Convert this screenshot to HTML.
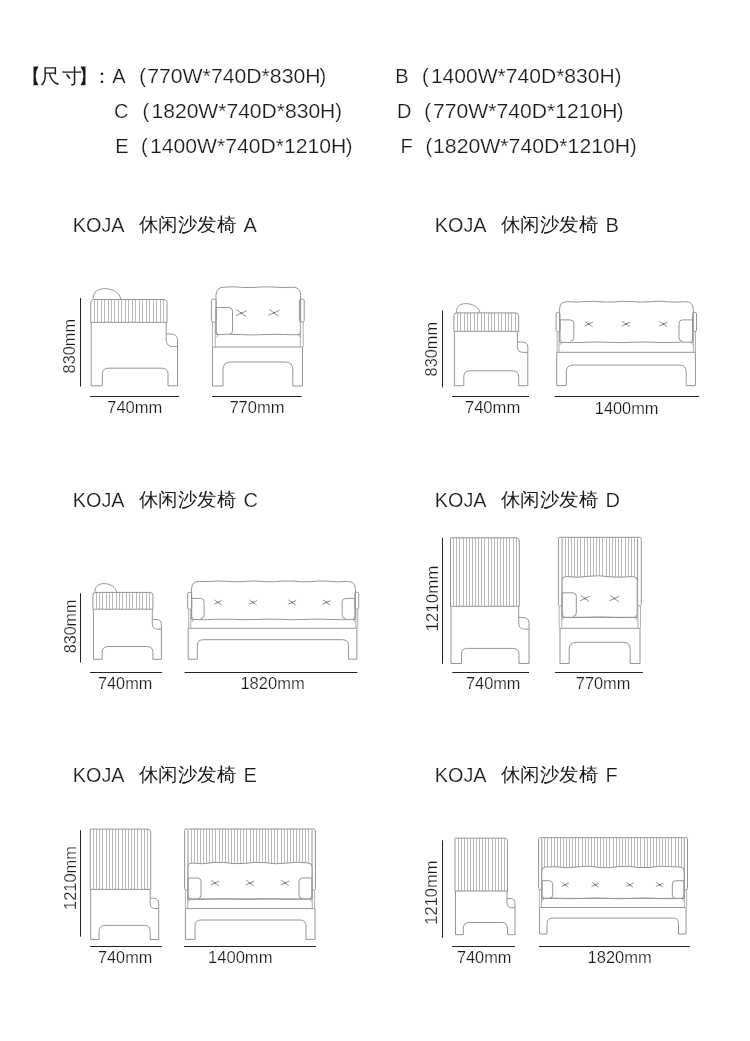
<!DOCTYPE html>
<html><head><meta charset="utf-8">
<style>
html,body{margin:0;padding:0;background:#fff;}
body{width:750px;height:1041px;overflow:hidden;}
svg{display:block;will-change:transform;}
text{font-family:"Liberation Sans",sans-serif;stroke:#fff;stroke-width:0.2px;}
</style></head><body>
<svg width="750" height="1041" viewBox="0 0 750 1041">
<text x="21" y="83" font-size="20" fill="#1a1a1a" text-anchor="start" style="stroke:none">【</text>
<text x="39.9" y="83" font-size="20" fill="#1a1a1a" text-anchor="start" style="stroke:none">尺</text>
<text x="61.6" y="83" font-size="20" fill="#1a1a1a" text-anchor="start" style="stroke:none">寸</text>
<text x="78.2" y="83" font-size="20" fill="#1a1a1a" text-anchor="start" style="stroke:none">】</text>
<text x="92.3" y="83" font-size="20" fill="#1a1a1a" text-anchor="start" style="stroke:none">：</text>
<text x="112.3" y="83" font-size="20" fill="#1a1a1a" text-anchor="start" >A</text>
<text x="139.2" y="83" font-size="20" fill="#1a1a1a" text-anchor="start" >(</text>
<text x="147.2" y="83" font-size="20" fill="#1a1a1a" text-anchor="start" textLength="173.4" lengthAdjust="spacingAndGlyphs" >770W*740D*830H</text>
<text x="319.5" y="83" font-size="20" fill="#1a1a1a" text-anchor="start" >)</text>
<text x="114.1" y="118" font-size="20" fill="#1a1a1a" text-anchor="start" >C</text>
<text x="142.4" y="118" font-size="20" fill="#1a1a1a" text-anchor="start" >(</text>
<text x="151.5" y="118" font-size="20" fill="#1a1a1a" text-anchor="start" textLength="183.8" lengthAdjust="spacingAndGlyphs" >1820W*740D*830H</text>
<text x="335.2" y="118" font-size="20" fill="#1a1a1a" text-anchor="start" >)</text>
<text x="115.2" y="153" font-size="20" fill="#1a1a1a" text-anchor="start" >E</text>
<text x="141.1" y="153" font-size="20" fill="#1a1a1a" text-anchor="start" >(</text>
<text x="149.9" y="153" font-size="20" fill="#1a1a1a" text-anchor="start" textLength="196.4" lengthAdjust="spacingAndGlyphs" >1400W*740D*1210H</text>
<text x="345.7" y="153" font-size="20" fill="#1a1a1a" text-anchor="start" >)</text>
<text x="395.2" y="83" font-size="20" fill="#1a1a1a" text-anchor="start" >B</text>
<text x="421.9" y="83" font-size="20" fill="#1a1a1a" text-anchor="start" >(</text>
<text x="430.9" y="83" font-size="20" fill="#1a1a1a" text-anchor="start" textLength="183.8" lengthAdjust="spacingAndGlyphs" >1400W*740D*830H</text>
<text x="614.7" y="83" font-size="20" fill="#1a1a1a" text-anchor="start" >)</text>
<text x="397" y="118" font-size="20" fill="#1a1a1a" text-anchor="start" >D</text>
<text x="424.3" y="118" font-size="20" fill="#1a1a1a" text-anchor="start" >(</text>
<text x="433" y="118" font-size="20" fill="#1a1a1a" text-anchor="start" textLength="184.4" lengthAdjust="spacingAndGlyphs" >770W*740D*1210H</text>
<text x="616.8" y="118" font-size="20" fill="#1a1a1a" text-anchor="start" >)</text>
<text x="400.5" y="153" font-size="20" fill="#1a1a1a" text-anchor="start" >F</text>
<text x="425.6" y="153" font-size="20" fill="#1a1a1a" text-anchor="start" >(</text>
<text x="433" y="153" font-size="20" fill="#1a1a1a" text-anchor="start" textLength="197.2" lengthAdjust="spacingAndGlyphs" >1820W*740D*1210H</text>
<text x="629.9" y="153" font-size="20" fill="#1a1a1a" text-anchor="start" >)</text>
<text x="72.8" y="231.8" font-size="20" fill="#1a1a1a" text-anchor="start" textLength="51.8" lengthAdjust="spacingAndGlyphs" >KOJA</text>
<text x="138.5" y="231" font-size="19.3" fill="#1a1a1a" text-anchor="start" textLength="97.5" lengthAdjust="spacingAndGlyphs" style="stroke:none">休闲沙发椅</text>
<text x="243.6" y="231.8" font-size="20" fill="#1a1a1a" text-anchor="start" >A</text>
<text x="434.8" y="231.8" font-size="20" fill="#1a1a1a" text-anchor="start" textLength="51.8" lengthAdjust="spacingAndGlyphs" >KOJA</text>
<text x="500.5" y="231" font-size="19.3" fill="#1a1a1a" text-anchor="start" textLength="97.5" lengthAdjust="spacingAndGlyphs" style="stroke:none">休闲沙发椅</text>
<text x="605.6" y="231.8" font-size="20" fill="#1a1a1a" text-anchor="start" >B</text>
<text x="72.8" y="506.8" font-size="20" fill="#1a1a1a" text-anchor="start" textLength="51.8" lengthAdjust="spacingAndGlyphs" >KOJA</text>
<text x="138.5" y="506" font-size="19.3" fill="#1a1a1a" text-anchor="start" textLength="97.5" lengthAdjust="spacingAndGlyphs" style="stroke:none">休闲沙发椅</text>
<text x="243.6" y="506.8" font-size="20" fill="#1a1a1a" text-anchor="start" >C</text>
<text x="434.8" y="506.8" font-size="20" fill="#1a1a1a" text-anchor="start" textLength="51.8" lengthAdjust="spacingAndGlyphs" >KOJA</text>
<text x="500.5" y="506" font-size="19.3" fill="#1a1a1a" text-anchor="start" textLength="97.5" lengthAdjust="spacingAndGlyphs" style="stroke:none">休闲沙发椅</text>
<text x="605.6" y="506.8" font-size="20" fill="#1a1a1a" text-anchor="start" >D</text>
<text x="72.8" y="781.8" font-size="20" fill="#1a1a1a" text-anchor="start" textLength="51.8" lengthAdjust="spacingAndGlyphs" >KOJA</text>
<text x="138.5" y="781" font-size="19.3" fill="#1a1a1a" text-anchor="start" textLength="97.5" lengthAdjust="spacingAndGlyphs" style="stroke:none">休闲沙发椅</text>
<text x="243.6" y="781.8" font-size="20" fill="#1a1a1a" text-anchor="start" >E</text>
<text x="434.8" y="781.8" font-size="20" fill="#1a1a1a" text-anchor="start" textLength="51.8" lengthAdjust="spacingAndGlyphs" >KOJA</text>
<text x="500.5" y="781" font-size="19.3" fill="#1a1a1a" text-anchor="start" textLength="97.5" lengthAdjust="spacingAndGlyphs" style="stroke:none">休闲沙发椅</text>
<text x="605.6" y="781.8" font-size="20" fill="#1a1a1a" text-anchor="start" >F</text>
<path d="M80.5,298.1V386.5 M90,396.5H179" stroke="#222" stroke-width="1" fill="none"/>
<path d="M93.2,299.5 C92.9,290.7 98.68,288.7 104.71,288.7 C112.38,288.7 120.6,292.7 120.6,299.5" stroke="#959595" stroke-width="1" fill="none"/>
<path d="M94.5,299.5V322.3 M97.5,299.5V322.3 M101.5,299.5V322.3 M104.5,299.5V322.3 M108.5,299.5V322.3 M111.5,299.5V322.3 M114.5,299.5V322.3 M118.5,299.5V322.3 M121.5,299.5V322.3 M125.5,299.5V322.3 M128.5,299.5V322.3 M132.5,299.5V322.3 M135.5,299.5V322.3 M139.5,299.5V322.3 M142.5,299.5V322.3 M146.5,299.5V322.3 M149.5,299.5V322.3 M153.5,299.5V322.3 M156.5,299.5V322.3 M160.5,299.5V322.3 M163.5,299.5V322.3" stroke="#bababa" stroke-width="1" fill="none"/>
<path d="M90.7,322.3 V302.5 Q90.7,299.5 93.7,299.5 H164 Q167,299.5 167,302.5 V322.3 Z" stroke="#959595" stroke-width="1" fill="none"/>
<path d="M91.2,322.3 L91.2,385.8 L102.3,385.8 L102.3,374.2 Q102.3,368.2 108.3,368.2 L162,368.2 Q168,368.2 168,374.2 L168,385.8 L177.5,385.8 L177.5,340.3 Q177.5,334 170.72,334 L166.2,334 L166.2,322.3 M166.2,334 L166.2,339.67 Q166.2,346.6 172.98,346.6 L177.5,346.6" stroke="#959595" stroke-width="1" fill="none"/>
<text x="0" y="0" font-size="16.5" fill="#1a1a1a" text-anchor="middle" textLength="54.5" lengthAdjust="spacingAndGlyphs" transform="translate(75.3,346.2) rotate(-90)">830mm</text>
<text x="107.2" y="412.9" font-size="15.7" fill="#1a1a1a" text-anchor="start" textLength="55.1" lengthAdjust="spacingAndGlyphs" >740mm</text>
<path d="M212,396.5H301.6" stroke="#222" stroke-width="1" fill="none"/>
<path d="M212.5,347 L302.5,347 L302.5,386 L292.8,386 L292.8,369.8 Q292.8,362 285,362 L230.8,362 Q223,362 223,369.8 L223,386 L212.5,386 Z" stroke="#959595" stroke-width="1" fill="none"/>
<path d="M216,334.6 V295.2 Q216,287.2 224,287.2 L224,287.2 L233.8,286.81 L243.6,287.48 L253.4,287.51 L263.2,286.84 L273,286.98 L282.8,287.62 L292.6,287.2 Q300.6,287.2 300.6,295.2 V334.6" stroke="#959595" stroke-width="1" fill="none"/>
<path d="M216,334.6 L228.09,334.26 L240.17,334.55 L252.26,334.95 L264.34,334.56 L276.43,334.26 L288.51,334.73 L300.6,334.6" stroke="#959595" stroke-width="1" fill="none"/>
<path d="M216,331.6 L218.5,334.6 L216,337.6 M300.6,331.6 L298.1,334.6 L300.6,337.6" stroke="#9a9a9a" stroke-width="0.8" fill="none"/>
<rect x="211.4" y="299.2" width="4.8" height="22.8" rx="1.5" stroke="#959595" stroke-width="1" fill="none"/>
<path d="M212.4,322 V347 M215.2,322 V347" stroke="#b0b0b0" stroke-width="1" fill="none"/>
<rect x="299.4" y="299.2" width="4.8" height="22.8" rx="1.5" stroke="#959595" stroke-width="1" fill="none"/>
<path d="M300.4,322 V347 M303.2,322 V347" stroke="#b0b0b0" stroke-width="1" fill="none"/>
<path d="M216,334.4 V307.6 H229 Q232.5,307.6 232.5,311.1 V330.9 Q232.5,334.4 229,334.4" stroke="#959595" stroke-width="1" fill="none"/>
<path d="M236.57,309.75 L246.23,316.65 M235.88,315.73 L246.92,310.67" stroke="#858585" stroke-width="0.9" fill="none"/>
<circle cx="241.4" cy="313.2" r="0.9" fill="#777"/>
<path d="M269.17,309.35 L278.83,316.25 M268.48,315.33 L279.52,310.27" stroke="#858585" stroke-width="0.9" fill="none"/>
<circle cx="274" cy="312.8" r="0.9" fill="#777"/>
<text x="229.4" y="413.1" font-size="15.7" fill="#1a1a1a" text-anchor="start" textLength="55.1" lengthAdjust="spacingAndGlyphs" >770mm</text>
<path d="M442.5,310.5V387.3 M452,396.5H529" stroke="#222" stroke-width="1" fill="none"/>
<path d="M456.3,312.9 C456,305.6 461,303.6 466.17,303.6 C472.75,303.6 479.8,307.6 479.8,312.9" stroke="#959595" stroke-width="1" fill="none"/>
<path d="M457.5,312.9V331.3 M460.5,312.9V331.3 M464.5,312.9V331.3 M467.5,312.9V331.3 M470.5,312.9V331.3 M474.5,312.9V331.3 M477.5,312.9V331.3 M481.5,312.9V331.3 M484.5,312.9V331.3 M488.5,312.9V331.3 M491.5,312.9V331.3 M494.5,312.9V331.3 M498.5,312.9V331.3 M501.5,312.9V331.3 M505.5,312.9V331.3 M508.5,312.9V331.3 M511.5,312.9V331.3 M515.5,312.9V331.3" stroke="#bababa" stroke-width="1" fill="none"/>
<path d="M453.9,331.3 V315.9 Q453.9,312.9 456.9,312.9 H515.7 Q518.7,312.9 518.7,315.9 V331.3 Z" stroke="#959595" stroke-width="1" fill="none"/>
<path d="M454.4,331.3 L454.4,385.7 L463.8,385.7 L463.8,376.8 Q463.8,370.8 469.8,370.8 L512.7,370.8 Q518.7,370.8 518.7,376.8 L518.7,385.7 L527.8,385.7 L527.8,347.2 Q527.8,342 521.56,342 L517.4,342 L517.4,331.3 M517.4,342 L517.4,346.68 Q517.4,352.4 523.64,352.4 L527.8,352.4" stroke="#959595" stroke-width="1" fill="none"/>
<text x="0" y="0" font-size="16.5" fill="#1a1a1a" text-anchor="middle" textLength="54.4" lengthAdjust="spacingAndGlyphs" transform="translate(436.6,349.2) rotate(-90)">830mm</text>
<text x="464.9" y="413.2" font-size="15.7" fill="#1a1a1a" text-anchor="start" textLength="55.4" lengthAdjust="spacingAndGlyphs" >740mm</text>
<path d="M554.6,396.5H699" stroke="#222" stroke-width="1" fill="none"/>
<path d="M556.7,352.3 L695.4,352.3 L695.4,385.6 L686.2,385.6 L686.2,371.76 Q686.2,365.1 679.54,365.1 L572.96,365.1 Q566.3,365.1 566.3,371.76 L566.3,385.6 L556.7,385.6 Z" stroke="#959595" stroke-width="1" fill="none"/>
<path d="M559.5,342.3 V309.7 Q559.5,301.7 567.5,301.7 L567.5,301.7 L576.56,302.13 L585.62,301.5 L594.68,301.33 L603.75,302 L612.81,302 L621.87,301.33 L630.93,301.5 L639.99,302.12 L649.05,301.79 L658.12,301.25 L667.18,301.72 L676.24,302.14 L685.3,301.7 Q693.3,301.7 693.3,309.7 V342.3" stroke="#959595" stroke-width="1" fill="none"/>
<path d="M559.5,342.3 L571.66,342.61 L583.83,342.42 L595.99,341.96 L608.15,342.27 L620.32,342.65 L632.48,342.24 L644.65,341.97 L656.81,342.45 L668.97,342.6 L681.14,342.08 L693.3,342.3" stroke="#959595" stroke-width="1" fill="none"/>
<path d="M559.5,339.3 L562,342.3 L559.5,345.3 M693.3,339.3 L690.8,342.3 L693.3,345.3" stroke="#9a9a9a" stroke-width="0.8" fill="none"/>
<rect x="556.1" y="312.4" width="3.9" height="19.2" rx="1.5" stroke="#959595" stroke-width="1" fill="none"/>
<path d="M557.1,331.6 V352.3 M559,331.6 V352.3" stroke="#b0b0b0" stroke-width="1" fill="none"/>
<rect x="692.6" y="312.4" width="3.9" height="19.2" rx="1.5" stroke="#959595" stroke-width="1" fill="none"/>
<path d="M693.6,331.6 V352.3 M695.5,331.6 V352.3" stroke="#b0b0b0" stroke-width="1" fill="none"/>
<path d="M560,341.2 V319.9 H570.3 Q573.8,319.9 573.8,323.4 V337.7 Q573.8,341.2 570.3,341.2" stroke="#959595" stroke-width="1" fill="none"/>
<path d="M692.6,341.2 V319.9 H682.5 Q679,319.9 679,323.4 V337.7 Q679,341.2 682.5,341.2" stroke="#959595" stroke-width="1" fill="none"/>
<path d="M584.92,321.4 L592.48,326.8 M584.38,326.08 L593.02,322.12" stroke="#858585" stroke-width="0.9" fill="none"/>
<circle cx="588.7" cy="324.1" r="0.9" fill="#777"/>
<path d="M622.22,321.4 L629.78,326.8 M621.68,326.08 L630.32,322.12" stroke="#858585" stroke-width="0.9" fill="none"/>
<circle cx="626" cy="324.1" r="0.9" fill="#777"/>
<path d="M659.62,321.4 L667.18,326.8 M659.08,326.08 L667.72,322.12" stroke="#858585" stroke-width="0.9" fill="none"/>
<circle cx="663.4" cy="324.1" r="0.9" fill="#777"/>
<text x="594.8" y="413.6" font-size="15.7" fill="#1a1a1a" text-anchor="start" textLength="63.7" lengthAdjust="spacingAndGlyphs" >1400mm</text>
<path d="M80.5,593.2V662.5 M90.2,672.5H161.9" stroke="#222" stroke-width="1" fill="none"/>
<path d="M95,592.4 C94.7,585.6 99.32,583.6 104.07,583.6 C110.12,583.6 116.6,587.6 116.6,592.4" stroke="#959595" stroke-width="1" fill="none"/>
<path d="M96.5,592.4V609.2 M99.5,592.4V609.2 M102.5,592.4V609.2 M106.5,592.4V609.2 M109.5,592.4V609.2 M112.5,592.4V609.2 M116.5,592.4V609.2 M119.5,592.4V609.2 M122.5,592.4V609.2 M126.5,592.4V609.2 M129.5,592.4V609.2 M132.5,592.4V609.2 M136.5,592.4V609.2 M139.5,592.4V609.2 M142.5,592.4V609.2 M146.5,592.4V609.2 M149.5,592.4V609.2" stroke="#bababa" stroke-width="1" fill="none"/>
<path d="M92.9,609.2 V595.4 Q92.9,592.4 95.9,592.4 H149.9 Q152.9,592.4 152.9,595.4 V609.2 Z" stroke="#959595" stroke-width="1" fill="none"/>
<path d="M93.4,609.2 L93.4,659.3 L102.2,659.3 L102.2,652.5 Q102.2,646.5 108.2,646.5 L146.9,646.5 Q152.9,646.5 152.9,652.5 L152.9,659.3 L161.4,659.3 L161.4,624.25 Q161.4,619.3 155.94,619.3 L152.3,619.3 L152.3,609.2 M152.3,619.3 L152.3,623.75 Q152.3,629.2 157.76,629.2 L161.4,629.2" stroke="#959595" stroke-width="1" fill="none"/>
<text x="0" y="0" font-size="16.5" fill="#1a1a1a" text-anchor="middle" textLength="53.6" lengthAdjust="spacingAndGlyphs" transform="translate(75.5,626.4) rotate(-90)">830mm</text>
<text x="98" y="689" font-size="15.7" fill="#1a1a1a" text-anchor="start" textLength="54.3" lengthAdjust="spacingAndGlyphs" >740mm</text>
<path d="M184.6,672.5H357.4" stroke="#222" stroke-width="1" fill="none"/>
<path d="M188.2,628.3 L356.9,628.3 L356.9,659.2 L348.5,659.2 L348.5,645.88 Q348.5,639.7 342.32,639.7 L203.48,639.7 Q197.3,639.7 197.3,645.88 L197.3,659.2 L188.2,659.2 Z" stroke="#959595" stroke-width="1" fill="none"/>
<path d="M191.5,619.4 V589.4 Q191.5,581.4 199.5,581.4 L199.5,581.4 L208.74,581.55 L217.99,580.96 L227.23,581.36 L236.47,581.85 L245.72,581.32 L254.96,580.97 L264.21,581.59 L273.45,581.78 L282.69,581.11 L291.94,581.09 L301.18,581.77 L310.42,581.61 L319.67,580.98 L328.91,581.3 L338.16,581.85 L347.4,581.4 Q355.4,581.4 355.4,589.4 V619.4" stroke="#959595" stroke-width="1" fill="none"/>
<path d="M191.5,619.4 L204.11,619.72 L216.72,619.21 L229.32,619.13 L241.93,619.66 L254.54,619.6 L267.15,619.09 L279.75,619.27 L292.36,619.74 L304.97,619.44 L317.58,619.05 L330.18,619.45 L342.79,619.74 L355.4,619.4" stroke="#959595" stroke-width="1" fill="none"/>
<path d="M191.5,616.4 L194,619.4 L191.5,622.4 M355.4,616.4 L352.9,619.4 L355.4,622.4" stroke="#9a9a9a" stroke-width="0.8" fill="none"/>
<rect x="187.7" y="592.3" width="4" height="17" rx="1.5" stroke="#959595" stroke-width="1" fill="none"/>
<path d="M188.7,609.3 V628.3 M190.7,609.3 V628.3" stroke="#b0b0b0" stroke-width="1" fill="none"/>
<rect x="354.9" y="592.3" width="3.8" height="17" rx="1.5" stroke="#959595" stroke-width="1" fill="none"/>
<path d="M355.9,609.3 V628.3 M357.7,609.3 V628.3" stroke="#b0b0b0" stroke-width="1" fill="none"/>
<path d="M191.7,618.6 V598.4 H200.6 Q204.1,598.4 204.1,601.9 V615.1 Q204.1,618.6 200.6,618.6" stroke="#959595" stroke-width="1" fill="none"/>
<path d="M354.9,618.6 V598.4 H345.7 Q342.2,598.4 342.2,601.9 V615.1 Q342.2,618.6 345.7,618.6" stroke="#959595" stroke-width="1" fill="none"/>
<path d="M214.43,599.85 L221.57,604.95 M213.92,604.27 L222.08,600.53" stroke="#858585" stroke-width="0.9" fill="none"/>
<circle cx="218" cy="602.4" r="0.9" fill="#777"/>
<path d="M249.43,599.85 L256.57,604.95 M248.92,604.27 L257.08,600.53" stroke="#858585" stroke-width="0.9" fill="none"/>
<circle cx="253" cy="602.4" r="0.9" fill="#777"/>
<path d="M288.43,599.85 L295.57,604.95 M287.92,604.27 L296.08,600.53" stroke="#858585" stroke-width="0.9" fill="none"/>
<circle cx="292" cy="602.4" r="0.9" fill="#777"/>
<path d="M322.93,599.85 L330.07,604.95 M322.42,604.27 L330.58,600.53" stroke="#858585" stroke-width="0.9" fill="none"/>
<circle cx="326.5" cy="602.4" r="0.9" fill="#777"/>
<text x="240.4" y="689.3" font-size="15.7" fill="#1a1a1a" text-anchor="start" textLength="64.3" lengthAdjust="spacingAndGlyphs" >1820mm</text>
<path d="M442.5,537.8V663.8 M452.3,672.5H529" stroke="#222" stroke-width="1" fill="none"/>
<path d="M453.5,537.8V606.3 M456.5,537.8V606.3 M459.5,537.8V606.3 M463.5,537.8V606.3 M466.5,537.8V606.3 M469.5,537.8V606.3 M472.5,537.8V606.3 M475.5,537.8V606.3 M478.5,537.8V606.3 M481.5,537.8V606.3 M484.5,537.8V606.3 M488.5,537.8V606.3 M491.5,537.8V606.3 M494.5,537.8V606.3 M497.5,537.8V606.3 M500.5,537.8V606.3 M503.5,537.8V606.3 M506.5,537.8V606.3 M509.5,537.8V606.3 M513.5,537.8V606.3 M516.5,537.8V606.3" stroke="#bababa" stroke-width="1" fill="none"/>
<path d="M450.5,606.3 V537.8 H516.3 Q519.3,537.8 519.3,540.8 V606.3 Z" stroke="#959595" stroke-width="1" fill="none"/>
<path d="M451,606.3 L451,663.5 L461.5,663.5 L461.5,654.4 Q461.5,648.4 467.5,648.4 L513,648.4 Q519,648.4 519,654.4 L519,663.5 L529,663.5 L529,623.35 Q529,617.5 522.82,617.5 L518.7,617.5 L518.7,606.3 M518.7,617.5 L518.7,622.76 Q518.7,629.2 524.88,629.2 L529,629.2" stroke="#959595" stroke-width="1" fill="none"/>
<text x="0" y="0" font-size="16.5" fill="#1a1a1a" text-anchor="middle" textLength="66" lengthAdjust="spacingAndGlyphs" transform="translate(437.5,598.6) rotate(-90)">1210mm</text>
<text x="466" y="689.4" font-size="15.7" fill="#1a1a1a" text-anchor="start" textLength="54.4" lengthAdjust="spacingAndGlyphs" >740mm</text>
<path d="M555.1,672.5H642.9" stroke="#222" stroke-width="1" fill="none"/>
<path d="M560,628.3 L640,628.3 L640,663.5 L630.2,663.5 L630.2,649.34 Q630.2,642.3 623.16,642.3 L576.24,642.3 Q569.2,642.3 569.2,649.34 L569.2,663.5 L560,663.5 Z" stroke="#959595" stroke-width="1" fill="none"/>
<path d="M565.5,537.3V578.5 M568.5,537.3V578.5 M571.5,537.3V578.5 M574.5,537.3V578.5 M577.5,537.3V578.5 M580.5,537.3V578.5 M584.5,537.3V578.5 M587.5,537.3V578.5 M590.5,537.3V578.5 M593.5,537.3V578.5 M596.5,537.3V578.5 M599.5,537.3V578.5 M602.5,537.3V578.5 M606.5,537.3V578.5 M609.5,537.3V578.5 M612.5,537.3V578.5 M615.5,537.3V578.5 M618.5,537.3V578.5 M621.5,537.3V578.5 M625.5,537.3V578.5 M628.5,537.3V578.5 M631.5,537.3V578.5 M634.5,537.3V578.5" stroke="#bababa" stroke-width="1" fill="none"/>
<path d="M558.4,604.4 V538.8 Q558.4,537.3 559.9,537.3 H639.8 Q641.3,537.3 641.3,538.8 V604.4 Q641.3,605.9 639.8,605.9 H639.1 Q637.6,605.9 637.6,604.4 V538.3 M558.4,604.4 Q558.4,605.9 559.9,605.9 H560.6 Q562.1,605.9 562.1,604.4 V538.3" stroke="#959595" stroke-width="1" fill="none"/>
<path d="M559.2,605.9 V628.3 M561.8,605.9 V628.3 M640.5,605.9 V628.3 M637.9,605.9 V628.3" stroke="#b4b4b4" stroke-width="1" fill="none"/>
<path d="M562.1,617.3 V580.5 Q562.1,576.5 566.1,576.5 L566.1,576.5 L577.28,577.29 L588.47,576.25 L599.65,575.78 L610.83,576.94 L622.02,577.11 L633.2,576.5 Q637.2,576.5 637.2,580.5 V617.3 Z" stroke="#959595" stroke-width="1" fill="#fff"/>
<path d="M562.1,617.3 L574.62,617.64 L587.13,617.33 L599.65,616.95 L612.17,617.36 L624.68,617.63 L637.2,617.3" stroke="#959595" stroke-width="1" fill="none"/>
<path d="M562.1,614.3 L564.6,617.3 L562.1,620.3 M637.2,614.3 L634.7,617.3 L637.2,620.3" stroke="#9a9a9a" stroke-width="0.8" fill="none"/>
<path d="M562,616.5 V592.8 H572.8 Q576.3,592.8 576.3,596.3 V613 Q576.3,616.5 572.8,616.5" stroke="#959595" stroke-width="1" fill="none"/>
<path d="M580.59,595.35 L589.41,601.65 M579.96,600.81 L590.04,596.19" stroke="#858585" stroke-width="0.9" fill="none"/>
<circle cx="585" cy="598.5" r="0.9" fill="#777"/>
<path d="M609.99,595.35 L618.81,601.65 M609.36,600.81 L619.44,596.19" stroke="#858585" stroke-width="0.9" fill="none"/>
<circle cx="614.4" cy="598.5" r="0.9" fill="#777"/>
<text x="575.8" y="688.9" font-size="15.7" fill="#1a1a1a" text-anchor="start" textLength="54.6" lengthAdjust="spacingAndGlyphs" >770mm</text>
<path d="M80.5,830.2V936.6 M90.2,946.5H161.9" stroke="#222" stroke-width="1" fill="none"/>
<path d="M93.5,829.1V889.4 M96.5,829.1V889.4 M99.5,829.1V889.4 M102.5,829.1V889.4 M106.5,829.1V889.4 M109.5,829.1V889.4 M112.5,829.1V889.4 M115.5,829.1V889.4 M118.5,829.1V889.4 M122.5,829.1V889.4 M125.5,829.1V889.4 M128.5,829.1V889.4 M131.5,829.1V889.4 M134.5,829.1V889.4 M137.5,829.1V889.4 M141.5,829.1V889.4 M144.5,829.1V889.4 M147.5,829.1V889.4" stroke="#bababa" stroke-width="1" fill="none"/>
<path d="M90.2,889.4 V829.1 H147.7 Q150.7,829.1 150.7,832.1 V889.4 Z" stroke="#959595" stroke-width="1" fill="none"/>
<path d="M90.7,889.4 L90.7,939.5 L99,939.5 L99,931.4 Q99,925.4 105,925.4 L144.2,925.4 Q150.2,925.4 150.2,931.4 L150.2,939.5 L158.7,939.5 L158.7,903.4 Q158.7,898.2 153.6,898.2 L150.2,898.2 L150.2,889.4 M150.2,898.2 L150.2,902.88 Q150.2,908.6 155.3,908.6 L158.7,908.6" stroke="#959595" stroke-width="1" fill="none"/>
<text x="0" y="0" font-size="16.5" fill="#1a1a1a" text-anchor="middle" textLength="64" lengthAdjust="spacingAndGlyphs" transform="translate(75.5,878) rotate(-90)">1210mm</text>
<text x="98" y="963.3" font-size="15.7" fill="#1a1a1a" text-anchor="start" textLength="54.3" lengthAdjust="spacingAndGlyphs" >740mm</text>
<path d="M184,946.5H316" stroke="#222" stroke-width="1" fill="none"/>
<path d="M185.4,908.6 L315,908.6 L315,939.4 L306,939.4 L306,926.16 Q306,920 299.84,920 L201.16,920 Q195,920 195,926.16 L195,939.4 L185.4,939.4 Z" stroke="#959595" stroke-width="1" fill="none"/>
<path d="M191.5,829V865 M194.5,829V865 M197.5,829V865 M200.5,829V865 M203.5,829V865 M206.5,829V865 M209.5,829V865 M212.5,829V865 M215.5,829V865 M219.5,829V865 M222.5,829V865 M225.5,829V865 M228.5,829V865 M231.5,829V865 M234.5,829V865 M237.5,829V865 M240.5,829V865 M243.5,829V865 M246.5,829V865 M250.5,829V865 M253.5,829V865 M256.5,829V865 M259.5,829V865 M262.5,829V865 M265.5,829V865 M268.5,829V865 M271.5,829V865 M274.5,829V865 M277.5,829V865 M281.5,829V865 M284.5,829V865 M287.5,829V865 M290.5,829V865 M293.5,829V865 M296.5,829V865 M299.5,829V865 M302.5,829V865 M305.5,829V865 M308.5,829V865" stroke="#bababa" stroke-width="1" fill="none"/>
<path d="M184.6,888.5 V830.5 Q184.6,829 186.1,829 H313.9 Q315.4,829 315.4,830.5 V888.5 Q315.4,890 313.9,890 H313.5 Q312,890 312,888.5 V830 M184.6,888.5 Q184.6,890 186.1,890 H186.5 Q188,890 188,888.5 V830" stroke="#959595" stroke-width="1" fill="none"/>
<path d="M185.4,890 V908.6 M187.7,890 V908.6 M314.6,890 V908.6 M312.3,890 V908.6" stroke="#b4b4b4" stroke-width="1" fill="none"/>
<path d="M188,899 V867 Q188,863 192,863 L192,863 L202.55,863.71 L213.09,862.54 L223.64,862.41 L234.18,863.61 L244.73,863.43 L255.27,862.28 L265.82,862.75 L276.36,863.79 L286.91,863.05 L297.45,862.2 L308,863 Q312,863 312,867 V899 Z" stroke="#959595" stroke-width="1" fill="#fff"/>
<path d="M188,899 L200.4,899.35 L212.8,898.93 L225.2,898.67 L237.6,899.16 L250,899.29 L262.4,898.77 L274.8,898.77 L287.2,899.29 L299.6,899.15 L312,899" stroke="#959595" stroke-width="1" fill="none"/>
<path d="M188,896 L190.5,899 L188,902 M312,896 L309.5,899 L312,902" stroke="#9a9a9a" stroke-width="0.8" fill="none"/>
<path d="M188,898.6 V878 H197.5 Q201,878 201,881.5 V895.1 Q201,898.6 197.5,898.6" stroke="#959595" stroke-width="1" fill="none"/>
<path d="M312,898.6 V878 H302.5 Q299,878 299,881.5 V895.1 Q299,898.6 302.5,898.6" stroke="#959595" stroke-width="1" fill="none"/>
<path d="M211.22,880.3 L218.78,885.7 M210.68,884.98 L219.32,881.02" stroke="#858585" stroke-width="0.9" fill="none"/>
<circle cx="215" cy="883" r="0.9" fill="#777"/>
<path d="M246.22,880.3 L253.78,885.7 M245.68,884.98 L254.32,881.02" stroke="#858585" stroke-width="0.9" fill="none"/>
<circle cx="250" cy="883" r="0.9" fill="#777"/>
<path d="M281.22,880.3 L288.78,885.7 M280.68,884.98 L289.32,881.02" stroke="#858585" stroke-width="0.9" fill="none"/>
<circle cx="285" cy="883" r="0.9" fill="#777"/>
<text x="208" y="963.3" font-size="15.7" fill="#1a1a1a" text-anchor="start" textLength="64.5" lengthAdjust="spacingAndGlyphs" >1400mm</text>
<path d="M442.5,840.3V937.9 M452.1,946.5H515" stroke="#222" stroke-width="1" fill="none"/>
<path d="M458.5,838.2V891 M461.5,838.2V891 M464.5,838.2V891 M467.5,838.2V891 M470.5,838.2V891 M473.5,838.2V891 M476.5,838.2V891 M479.5,838.2V891 M482.5,838.2V891 M485.5,838.2V891 M488.5,838.2V891 M492.5,838.2V891 M495.5,838.2V891 M498.5,838.2V891 M501.5,838.2V891 M504.5,838.2V891" stroke="#bababa" stroke-width="1" fill="none"/>
<path d="M455,891 V838.2 H504.5 Q507.5,838.2 507.5,841.2 V891 Z" stroke="#959595" stroke-width="1" fill="none"/>
<path d="M455.5,891 L455.5,934.7 L463.3,934.7 L463.3,928.5 Q463.3,922.5 469.3,922.5 L501.5,922.5 Q507.5,922.5 507.5,928.5 L507.5,934.7 L515,934.7 L515,903.15 Q515,898.5 510.2,898.5 L507,898.5 L507,891 M507,898.5 L507,902.68 Q507,907.8 511.8,907.8 L515,907.8" stroke="#959595" stroke-width="1" fill="none"/>
<text x="0" y="0" font-size="16.5" fill="#1a1a1a" text-anchor="middle" textLength="64.3" lengthAdjust="spacingAndGlyphs" transform="translate(437.1,892.6) rotate(-90)">1210mm</text>
<text x="456.9" y="963.3" font-size="15.7" fill="#1a1a1a" text-anchor="start" textLength="54.6" lengthAdjust="spacingAndGlyphs" >740mm</text>
<path d="M539,946.5H689.8" stroke="#222" stroke-width="1" fill="none"/>
<path d="M539.5,907.5 L686,907.5 L686,934 L678.5,934 L678.5,923.4 Q678.5,918.1 673.2,918.1 L552.3,918.1 Q547,918.1 547,923.4 L547,934 L539.5,934 Z" stroke="#959595" stroke-width="1" fill="none"/>
<path d="M544.5,837.7V869 M547.5,837.7V869 M551.5,837.7V869 M554.5,837.7V869 M557.5,837.7V869 M560.5,837.7V869 M563.5,837.7V869 M566.5,837.7V869 M569.5,837.7V869 M572.5,837.7V869 M575.5,837.7V869 M578.5,837.7V869 M582.5,837.7V869 M585.5,837.7V869 M588.5,837.7V869 M591.5,837.7V869 M594.5,837.7V869 M597.5,837.7V869 M600.5,837.7V869 M603.5,837.7V869 M606.5,837.7V869 M609.5,837.7V869 M613.5,837.7V869 M616.5,837.7V869 M619.5,837.7V869 M622.5,837.7V869 M625.5,837.7V869 M628.5,837.7V869 M631.5,837.7V869 M634.5,837.7V869 M637.5,837.7V869 M640.5,837.7V869 M644.5,837.7V869 M647.5,837.7V869 M650.5,837.7V869 M653.5,837.7V869 M656.5,837.7V869 M659.5,837.7V869 M662.5,837.7V869 M665.5,837.7V869 M668.5,837.7V869 M671.5,837.7V869 M675.5,837.7V869 M678.5,837.7V869 M681.5,837.7V869" stroke="#bababa" stroke-width="1" fill="none"/>
<path d="M538.6,888.3 V839.2 Q538.6,837.7 540.1,837.7 H686 Q687.5,837.7 687.5,839.2 V888.3 Q687.5,889.8 686,889.8 H685.8 Q684.3,889.8 684.3,888.3 V838.7 M538.6,888.3 Q538.6,889.8 540.1,889.8 H540.3 Q541.8,889.8 541.8,888.3 V838.7" stroke="#959595" stroke-width="1" fill="none"/>
<path d="M539.4,889.8 V907.5 M541.5,889.8 V907.5 M686.7,889.8 V907.5 M684.6,889.8 V907.5" stroke="#b4b4b4" stroke-width="1" fill="none"/>
<path d="M541.8,898.4 V871 Q541.8,867 545.8,867 L545.8,867 L556.13,866.79 L566.46,867.79 L576.79,867.01 L587.12,866.21 L597.45,867.2 L607.78,867.74 L618.12,866.61 L628.45,866.36 L638.78,867.55 L649.11,867.5 L659.44,866.32 L669.77,866.68 L680.1,867 Q684.1,867 684.1,871 V898.4 Z" stroke="#959595" stroke-width="1" fill="#fff"/>
<path d="M541.8,898.4 L554.74,898.18 L567.67,898.7 L580.61,898.54 L593.55,898.06 L606.48,898.35 L619.42,898.75 L632.35,898.36 L645.29,898.06 L658.23,898.52 L671.16,898.71 L684.1,898.4" stroke="#959595" stroke-width="1" fill="none"/>
<path d="M541.8,895.4 L544.3,898.4 L541.8,901.4 M684.1,895.4 L681.6,898.4 L684.1,901.4" stroke="#9a9a9a" stroke-width="0.8" fill="none"/>
<path d="M542,898.4 V880.7 H549.2 Q552.7,880.7 552.7,884.2 V894.9 Q552.7,898.4 549.2,898.4" stroke="#959595" stroke-width="1" fill="none"/>
<path d="M684,898.4 V880.7 H675.8 Q672.3,880.7 672.3,884.2 V894.9 Q672.3,898.4 675.8,898.4" stroke="#959595" stroke-width="1" fill="none"/>
<path d="M561.74,882.4 L568.46,887.2 M561.26,886.56 L568.94,883.04" stroke="#858585" stroke-width="0.9" fill="none"/>
<circle cx="565.1" cy="884.8" r="0.9" fill="#777"/>
<path d="M591.94,882.4 L598.66,887.2 M591.46,886.56 L599.14,883.04" stroke="#858585" stroke-width="0.9" fill="none"/>
<circle cx="595.3" cy="884.8" r="0.9" fill="#777"/>
<path d="M626.34,882.4 L633.06,887.2 M625.86,886.56 L633.54,883.04" stroke="#858585" stroke-width="0.9" fill="none"/>
<circle cx="629.7" cy="884.8" r="0.9" fill="#777"/>
<path d="M656.24,882.4 L662.96,887.2 M655.76,886.56 L663.44,883.04" stroke="#858585" stroke-width="0.9" fill="none"/>
<circle cx="659.6" cy="884.8" r="0.9" fill="#777"/>
<text x="587.5" y="962.6" font-size="15.7" fill="#1a1a1a" text-anchor="start" textLength="64.3" lengthAdjust="spacingAndGlyphs" >1820mm</text>
</svg>
</body></html>
